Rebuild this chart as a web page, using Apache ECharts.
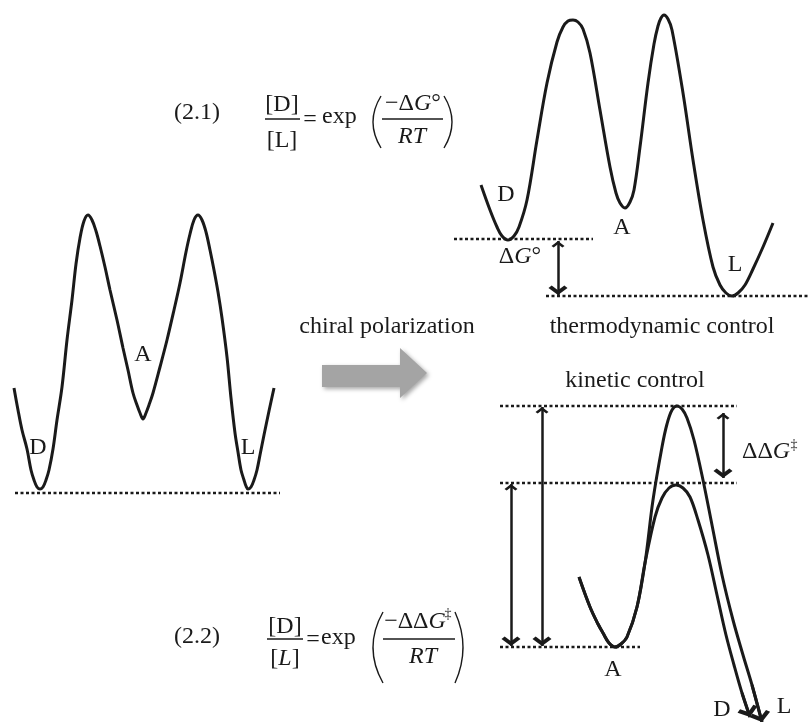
<!DOCTYPE html>
<html><head><meta charset="utf-8">
<script src="https://cdn.jsdelivr.net/npm/echarts@6/dist/echarts.min.js"></script>
<style>html,body{margin:0;padding:0;background:#fff}#c{width:809px;height:722px}</style>
</head><body><div id="c"></div>
<script>
// ---- data (x, y in picture units; y grows downward) ----
const leftCurve = [[14,388],[18,410],[22,430],[27,449],[31,470],[34,480],[37,487],[40,489],[43,487],[46,480],[49,470],[53,449],[57,420],[62,387],[67,340],[72,300],[76,264],[80,238],[84,221],[88,215],[92,220],[96,231],[100,246],[105,267],[110,290],[117,320],[123,348],[128,370],[133,393],[137,405],[140,413],[143,419],[146,413],[149,405],[153,393],[160,367],[167,340],[174,310],[180,283],[186,252],[190,234],[194,220],[198,215],[202,220],[206,232],[210,250],[214,270],[218,292],[222,318],[227,357],[231,398],[235,433],[238,452],[241,470],[244,480],[246,486],[248,489],[251,487],[254,480],[257,470],[260,455],[264,435],[269,411],[274,388]];
const thermoCurve = [[481,185],[490,210],[497,227],[502,236],[508,240],[514,236],[519,227],[527,200],[537,140],[547,83],[557,42],[563,27],[568,21],[573,20],[578,22],[583,29],[590,53],[600,110],[610,167],[616,193],[620,203],[625,208],[630,202],[634,190],[640,147],[648,83],[654,44],[658,26],[661,18],[664,15],[668,19],[672,30],[683,93],[693,160],[703,220],[713,267],[720,285],[726,293],[732,296],[738,293],[745,285],[753,269],[763,247],[773,223]];
const kineticUpper = [[579,577],[590,607],[598,624],[603,633],[609,643],[615,647],[621,644],[627,637],[637,607],[645,563],[653,500],[662,447],[667,424],[672,410],[677,406],[682,409],[687,418],[694,440],[703,480],[712,525],[722,575],[733,620],[743,655],[752,685],[762,722]];
const kineticLower = [[579,577],[590,607],[598,624],[603,633],[609,643],[615,647],[621,644],[627,637],[637,607],[645,563],[655,517],[662,498],[669,488],[676,485],[683,488],[690,497],[698,520],[708,555],[717,595],[726,635],[734,665],[742,693],[750,717]];
const curveTips = [[[752,685],[762,722]],[[742,693],[750,717]]];
const dottedLines = [[[15,493],[280,493]],[[454,239],[593,239]],[[546,296],[809,296]],[[500,406],[737,406]],[[500,483],[737,483]],[[500,647],[640,647]]];
const doubleArrows = [[[558,241],[558,295]],[[542,407],[542,646]],[[511,484],[511,646]],[[723,413],[723,478]]];
const grayArrow = [[322,365],[400,365],[400,348],[427,373],[400,398],[400,387],[322,387]];

const INK = '#1a1a1a';
const FONT = 'Liberation Serif';
const chev = 'path://M6,0M0,14L6,8L12,14L10,16L6,12L2,16Z';

const chart = echarts.init(document.getElementById('c'), null, {renderer:'canvas'});

function curveSeries(d){
  return {type:'line', data:d, smooth:0.35, symbol:'none', silent:true,
    lineStyle:{color:INK, width:3}, z:3};
}
const series = [];
series.push({type:'custom', silent:true, data:[[0,0]], z:1,
  renderItem:function(params, api){
    return {type:'polygon', shape:{points: grayArrow.map(p=>api.coord(p))},
      style:{fill:'#a4a4a4', shadowBlur:4, shadowOffsetX:2, shadowOffsetY:2, shadowColor:'rgba(0,0,0,0.35)'}};
  }});
dottedLines.forEach(l=>series.push({type:'line', data:l, symbol:'none', silent:true,
  lineStyle:{color:INK, width:2.5, type:[3,2.5]}, z:2}));
[leftCurve, thermoCurve, kineticUpper, kineticLower].forEach(c=>series.push(curveSeries(c)));
series.push({type:'lines', coordinateSystem:'cartesian2d', silent:true, z:4,
  data: doubleArrows.map(a=>({coords:a})),
  symbol:[chev, chev], symbolSize:[13,19],
  lineStyle:{color:INK, width:2.5, opacity:1}, itemStyle:{color:INK}});
series.push({type:'lines', coordinateSystem:'cartesian2d', silent:true, z:4,
  data: curveTips.map(a=>({coords:a})),
  symbol:['none', chev], symbolSize:[14,21],
  lineStyle:{color:INK, width:3, opacity:1}, itemStyle:{color:INK}});

const FS = 24;
function T(text, x, y, opt){
  opt = opt || {};
  const size = opt.size || FS;
  const st = {text:text, x:x, y:y, fill:INK,
    font:(opt.italic?'italic ':'') + size + 'px "' + FONT + '"',
    align: opt.align || 'center', verticalAlign:'middle',
    textAlign: opt.align || 'center', textVerticalAlign:'middle'};
  if (opt.rich) st.rich = opt.rich;
  return {type:'text', silent:true, z:10, style:st};
}
const rich = {
  n:{fontFamily:FONT, fontSize:FS, fontStyle:'normal', color:INK},
  i:{fontFamily:FONT, fontSize:FS, fontStyle:'italic', color:INK}
};
function L(x1,y1,x2,y2,w){return {type:'line', silent:true, z:10, shape:{x1,y1,x2,y2}, style:{stroke:INK, lineWidth:w||1.3}};}
function P(x1,y1,x2,y2,cx,cy){return {type:'bezierCurve', silent:true, z:10, shape:{x1,y1,x2,y2,cpx1:cx,cpy1:cy}, style:{stroke:INK, lineWidth:1.4, fill:null}};}

const graphics = [
  // equation 2.1
  T('(2.1)', 197, 113),
  T('[D]', 282, 105),
  T('[L]', 282, 141),
  L(265,119,300,119),
  T('=', 310, 120),
  T('exp', 322, 117, {align:'left'}),
  P(381,96,381,148,365,122),
  P(444,96,444,148,460,122),
  T('{n|−Δ}{i|G}{n|°}', 413, 104, {rich:rich}),
  L(382,119,443,119),
  T('RT', 412, 137, {italic:true}),
  // equation 2.2
  T('(2.2)', 197, 637),
  T('[D]', 285, 627),
  T('{n|[}{i|L}{n|]}', 285, 659, {rich:rich}),
  L(267,639,303,639),
  T('=', 313, 640),
  T('exp', 321, 638, {align:'left'}),
  P(383,612,383,683,363,647.5),
  P(455,612,455,683,471,647.5),
  T('{n|−ΔΔ}{i|G}', 415, 622, {rich:rich}),
  T('‡', 448, 614, {size:14}),
  L(383,639,455,639),
  T('RT', 423, 657, {italic:true}),
  // left diagram labels
  T('D', 38, 448), T('A', 143, 355), T('L', 248, 448),
  T('chiral polarization', 387, 327),
  // thermodynamic diagram
  T('D', 506, 195), T('A', 622, 228), T('L', 735, 265),
  T('{n|Δ}{i|G}{n|°}', 520, 257, {rich:rich}),
  T('thermodynamic control', 662, 327),
  // kinetic diagram
  T('kinetic control', 635, 381),
  T('{n|ΔΔ}{i|G}', 742, 452, {rich:rich, align:'left'}),
  T('‡', 794, 445, {size:14}),
  T('A', 613, 670), T('D', 722, 710), T('L', 784, 707)
];

chart.setOption({
  animation:false,
  backgroundColor:'#ffffff',
  grid:{left:0, right:0, top:0, bottom:0},
  xAxis:{type:'value', min:0, max:809, show:false},
  yAxis:{type:'value', min:0, max:722, inverse:true, show:false},
  series:series,
  graphic:{elements:graphics}
});
</script>
</body></html>
